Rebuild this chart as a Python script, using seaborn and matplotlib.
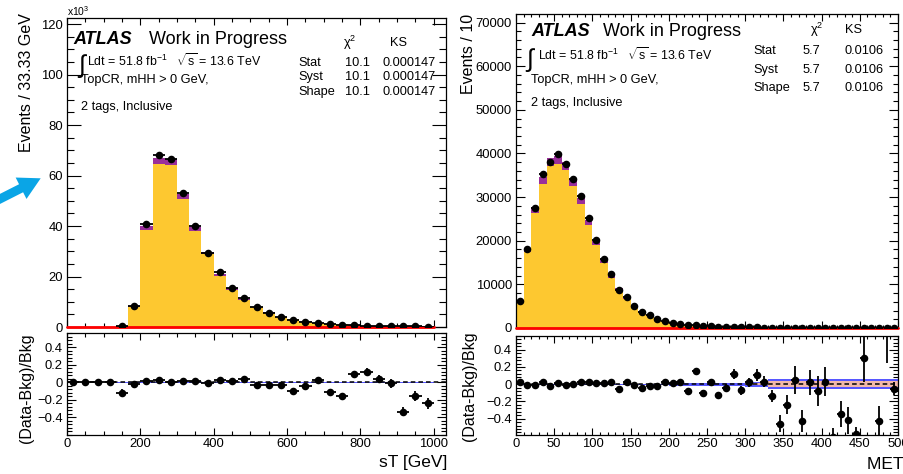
import numpy as np
import pandas as pd
import matplotlib
matplotlib.use("Agg")
import matplotlib.pyplot as plt
import seaborn as sns
from matplotlib.ticker import MultipleLocator
from matplotlib.patches import FancyArrow

# ---------------- sT [GeV]: 30 bins of 33.33 GeV, events in units of 10^3
st_range = (0.0, 1000.0)
st_nbins = 30
st_data = [0, 0, 0, 0, 0.30, 8.2, 40.7, 68.1, 66.4, 53.2, 40.0, 29.5, 21.7, 15.5, 11.5,
           7.8, 5.7, 4.0, 2.8, 2.1, 1.6, 1.1, 0.90, 0.66, 0.58, 0.48, 0.38, 0.29, 0.24, 0.19]
st_top = [0, 0, 0, 0, 0.33, 8.05, 38.6, 64.5, 64.2, 50.9, 38.2, 28.8, 20.3, 14.8, 10.7,
          7.76, 5.68, 3.98, 2.98, 2.11, 1.51, 1.20, 1.03, 0.58, 0.50, 0.44, 0.37, 0.42, 0.27, 0.24]
st_other = [0, 0, 0, 0, 0.01, 0.32, 1.5, 2.3, 2.2, 1.8, 1.4, 1.0, 0.8, 0.5, 0.4,
            0.28, 0.20, 0.14, 0.11, 0.08, 0.05, 0.04, 0.04, 0.02, 0.02, 0.02, 0.01, 0.02, 0.01, 0.01]
st_signal = [0.0] * 30
st_ratio = [0, 0, 0, 0, -0.12, -0.02, 0.015, 0.02, 0.0, 0.01, 0.01, -0.01, 0.03, 0.01, 0.035,
            -0.03, -0.03, -0.03, -0.095, -0.04, 0.025, -0.115, -0.16, 0.095, 0.12, 0.04, -0.01,
            -0.335, -0.155, -0.24]
st_ratio_err = [0, 0, 0, 0, 0.045, 0.012, 0.006, 0.005, 0.005, 0.005, 0.006, 0.007, 0.008, 0.009,
                0.01, 0.012, 0.014, 0.016, 0.02, 0.022, 0.025, 0.03, 0.032, 0.038, 0.042, 0.045,
                0.05, 0.05, 0.06, 0.065]
st_band = [0, 0, 0, 0] + [0.008] * 26
st_ticks = [0, 200, 400, 600, 800, 1000]

# ---------------- MET [GeV]: 50 bins of 10 GeV
met_range = (0.0, 500.0)
met_nbins = 50
met_data = [6300, 18000, 27400, 35250, 38100, 39850, 37550, 34100, 30270, 25130,
            20230, 15860, 12260, 8740, 7130, 5130, 3750, 2910, 2150, 1610,
            1230, 920, 690, 610, 470, 400, 320, 270, 230, 180,
            150, 130, 110, 90, 60, 60, 60, 40, 45, 40,
            40, 20, 20, 18, 12, 25, 10, 10, 15, 12]
met_top = [5916, 17382, 26427, 32999, 37128, 37675, 36219, 32570, 28336, 23527,
           19130, 15003, 11383, 8800, 6622, 4962, 3746, 2849, 2104, 1518,
           1168, 858, 720, 510, 502, 373, 349, 271, 197, 186,
           141, 112, 103, 101, 107, 76, 55, 67, 42, 41,
           37, 49, 30, 30, 28, 18, 19, 17, 9.5, 12.5]
met_other = [260, 800, 1250, 1560, 1750, 1780, 1710, 1530, 1340, 1110,
             900, 700, 520, 400, 300, 220, 160, 120, 90, 60,
             50, 35, 30, 20, 20, 15, 15, 10, 8, 8,
             6, 5, 4, 4, 4, 3, 2, 3, 2, 2,
             2, 2, 1, 1, 1, 1, 1, 1, 0.5, 0.5]
met_signal = [0.0] * 50
met_ratio = [0.02, -0.01, -0.01, 0.02, -0.02, 0.01, -0.01, 0.0, 0.02, 0.02,
             0.01, 0.01, 0.03, -0.05, 0.03, -0.01, -0.04, -0.02, -0.02, 0.02,
             0.01, 0.03, -0.08, 0.15, -0.10, 0.03, -0.12, -0.04, 0.12, -0.07,
             0.02, 0.11, 0.03, -0.14, -0.46, -0.24, 0.05, -0.43, 0.02, -0.08,
             0.03, -0.61, -0.35, -0.42, -0.58, 0.30, np.nan, -0.43, 0.75, -0.05]
met_ratio_err = [0.01] * 22 + [0.02, 0.02, 0.025, 0.03, 0.03, 0.04, 0.06, 0.05,
                               0.05, 0.07, 0.06, 0.07, 0.10, 0.11, 0.16, 0.13, 0.15, 0.17,
                               0.17, 0.10, 0.15, 0.16, 0.08, 0.28, np.nan, 0.18, 0.50, 0.08]
met_band = [0.008] * 20 + [0.018] * 10 + [0.03] * 3 + [0.055] * 17
met_ticks = [0, 50, 100, 150, 200, 250, 300, 350, 400, 450, 500]

YELLOW = "#fdc830"
PURPLE = "#9a2f9a"
ARROW = "#0aa5e6"

sns.set_theme(style="ticks")
plt.rcParams["font.family"] = ["Liberation Sans", "DejaVu Sans"]
plt.rcParams["mathtext.fontset"] = "custom"
plt.rcParams["mathtext.rm"] = "Liberation Sans"
plt.rcParams["mathtext.it"] = "Liberation Sans:italic"
plt.rcParams["axes.unicode_minus"] = True

W, H = 904, 474
fig = plt.figure(figsize=(W / 100, H / 100), dpi=100)
fig.patch.set_facecolor("white")


def box(x0, y0, x1, y1):
    return [x0 / W, 1 - y1 / H, (x1 - x0) / W, (y1 - y0) / H]


def root_style(ax, xmaj, xmin, ymaj, ymin, ylen, xlen):
    ax.xaxis.set_major_locator(MultipleLocator(xmaj))
    ax.xaxis.set_minor_locator(MultipleLocator(xmin))
    ax.yaxis.set_major_locator(MultipleLocator(ymaj))
    ax.yaxis.set_minor_locator(MultipleLocator(ymin))
    ax.tick_params(which="both", direction="in", top=True, right=True, width=0.8,
                   colors="black", labelsize=9.4)
    ax.tick_params(axis="y", which="major", length=ylen[0], pad=3)
    ax.tick_params(axis="y", which="minor", length=ylen[1])
    ax.tick_params(axis="x", which="major", length=xlen[0], pad=2)
    ax.tick_params(axis="x", which="minor", length=xlen[1])
    for s in ax.spines.values():
        s.set_linewidth(0.9)
        s.set_color("black")
    ax.set_facecolor("white")
    ax.grid(False)
    ax.set_xlabel("")
    ax.set_ylabel("")


def main_panel(ax, rng, nbins, top, other, signal, data, xlim, ylim):
    width = (rng[1] - rng[0]) / nbins
    centers = rng[0] + width * (np.arange(nbins) + 0.5)
    df = pd.DataFrame({"x": centers, "top": top, "other": other,
                       "signal": signal, "data": data})
    df["total"] = df["top"] + df["other"]
    common = dict(x="x", bins=nbins, binrange=rng, element="step", ax=ax)
    sns.histplot(data=df, weights="total", fill=True, color=PURPLE, alpha=1,
                 linewidth=0, zorder=1, **common)
    sns.histplot(data=df, weights="top", fill=True, color=YELLOW, alpha=1,
                 linewidth=0, zorder=2, **common)
    sns.histplot(data=df, weights="signal", fill=False, color="#ff0000",
                 linewidth=2, zorder=3, **common)
    for ln in ax.get_lines():
        ln.set_clip_on(False)
    pts = df[df["data"] > 0]
    ax.errorbar(pts["x"], pts["data"], xerr=width / 2, fmt="none", ecolor="black",
                elinewidth=1.3, zorder=4)
    sns.scatterplot(data=pts, x="x", y="data", color="black", s=30,
                    edgecolor="black", linewidth=0, ax=ax, zorder=5)
    ax.set_xlim(*xlim)
    ax.set_ylim(*ylim)


def ratio_panel(ax, rng, nbins, ratio, err, band, xlim, ylim, inner):
    width = (rng[1] - rng[0]) / nbins
    edges = rng[0] + width * np.arange(nbins + 1)
    centers = edges[:-1] + width / 2
    b = np.append(band, band[-1])
    ax.fill_between(edges, -b, b, step="post", color="#3a3aff", alpha=0.85,
                    linewidth=0, zorder=1)
    if inner:
        bi = np.clip(b - 0.018, 0, None)
        ax.fill_between(edges, -bi, bi, step="post", color="#f2b8a8",
                        linewidth=0, zorder=2)
    ax.axhline(0, color="black", lw=1.1, ls=(0, (3, 2)), zorder=3)
    df = pd.DataFrame({"x": centers, "r": ratio, "e": err})
    ax.errorbar(df["x"], df["r"], xerr=width / 2, yerr=df["e"], fmt="none",
                ecolor="black", elinewidth=1.3, zorder=4)
    sns.scatterplot(data=df, x="x", y="r", color="black", s=30,
                    edgecolor="black", linewidth=0, ax=ax, zorder=5)
    ax.set_xlim(*xlim)
    ax.set_ylim(*ylim)


# ---------------- left: sT
ax_st = fig.add_axes(box(67, 18, 446, 327))
main_panel(ax_st, st_range, st_nbins, st_top, st_other, st_signal, st_data,
           (0, 1033.3), (0, 122.4))
root_style(ax_st, 200, 50, 20, 5, (9.9, 5.0), (5.0, 2.8))
ax_st.tick_params(labelbottom=False)

ax_st_r = fig.add_axes(box(67, 333, 446, 435))
ratio_panel(ax_st_r, st_range, st_nbins, st_ratio, st_ratio_err, st_band,
            (0, 1033.3), (-0.6, 0.56), inner=False)
root_style(ax_st_r, 200, 50, 0.2, 0.04, (6.5, 3.5), (5.0, 2.8))
ax_st_r.set_xticks(st_ticks)
ax_st_r.set_yticks([-0.4, -0.2, 0, 0.2, 0.4])
ax_st_r.set_yticklabels(["\u22120.4", "\u22120.2", "0", "0.2", "0.4"])
ax_st_r.set_xlim(0, 1033.3)

# ---------------- right: MET
ax_met = fig.add_axes(box(516, 14, 898, 328))
main_panel(ax_met, met_range, met_nbins, met_top, met_other, met_signal, met_data,
           (0, 500), (0, 71950))
root_style(ax_met, 50, 10, 10000, 2000, (6.5, 3.4), (5.0, 2.5))
ax_met.tick_params(labelbottom=False)

ax_met_r = fig.add_axes(box(516, 336, 898, 435))
ratio_panel(ax_met_r, met_range, met_nbins, met_ratio, met_ratio_err, met_band,
            (0, 500), (-0.59, 0.56), inner=True)
root_style(ax_met_r, 50, 10, 0.2, 0.04, (6.5, 3.5), (5.0, 2.5))
ax_met_r.set_xticks(met_ticks)
ax_met_r.set_yticks([-0.4, -0.2, 0, 0.2, 0.4])
ax_met_r.set_yticklabels(["\u22120.4", "\u22120.2", "0", "0.2", "0.4"])
ax_met_r.set_xlim(0, 500)

# ---------------- text layer in pixel coordinates
ov = fig.add_axes([0, 0, 1, 1], zorder=20)
ov.set_xlim(0, W)
ov.set_ylim(H, 0)
ov.axis("off")
ov.patch.set_alpha(0)


def t(x, y, s, size=9.2, **kw):
    kw.setdefault("va", "center")
    ov.text(x, y, s, fontsize=size, color="black", **kw)


def header(x_atlas, x_wip, y_atlas, x_int, y_int, x_lum, y_lum, x_txt, y_cr, y_tags,
           x_chi, x_ks, y_head, x_rows, x_v1, x_v2, rows, chi, ks):
    t(x_atlas, y_atlas, "ATLAS", size=13, fontweight="bold", fontstyle="italic")
    t(x_wip, y_atlas, "Work in Progress", size=13)
    t(x_int, y_int, "\u222b", size=18)
    t(x_lum, y_lum, r"Ldt = 51.8 fb$^{-1}$   $\sqrt{\mathrm{s}}$ = 13.6 TeV", size=8.9)
    t(x_txt, y_cr, "TopCR, mHH > 0 GeV,", size=9.2)
    t(x_txt, y_tags, "2 tags, Inclusive", size=9.2)
    t(x_chi, y_head, r"χ$^{2}$", size=9.2)
    t(x_ks, y_head, "KS", size=9.2)
    for name, yy in rows:
        t(x_rows, yy, name, size=9.2)
        t(x_v1, yy, chi, size=9.2)
        t(x_v2, yy, ks, size=9.2)


header(73, 149, 39, 78, 66, 87, 61, 81, 80, 107,
       343, 390, 43, 298, 345, 383,
       [("Stat", 63), ("Syst", 77), ("Shape", 92)], "10.1", "0.000147")
header(531, 603, 31, 526, 60, 538, 55, 531, 80, 103,
       810, 845, 30, 753, 803, 845,
       [("Stat", 51), ("Syst", 70), ("Shape", 88)], "5.7", "0.0106")

t(67, 11, r"x10$^{3}$", size=7.5, ha="left")

# axis titles
t(27, 13, "Events / 33.33 GeV", size=11.5, rotation=90, ha="center", va="top")
t(27, 388, "(Data-Bkg)/Bkg", size=11.5, rotation=90, ha="center")
t(447, 462, "sT [GeV]", size=12.5, ha="right")
t(469, 14, "Events / 10", size=11.5, rotation=90, ha="center", va="top")
t(470, 386, "(Data-Bkg)/Bkg", size=11.5, rotation=90, ha="center")
t(867, 464, "MET [GeV]", size=12.5, ha="left")

# callout arrow at the left edge
ov.add_patch(FancyArrow(-12, 205, 52.7, -26.7, width=9, head_width=24,
                        head_length=22, length_includes_head=True,
                        color=ARROW, linewidth=0, clip_on=False))

fig.savefig("out.png", dpi=100, facecolor="white")
